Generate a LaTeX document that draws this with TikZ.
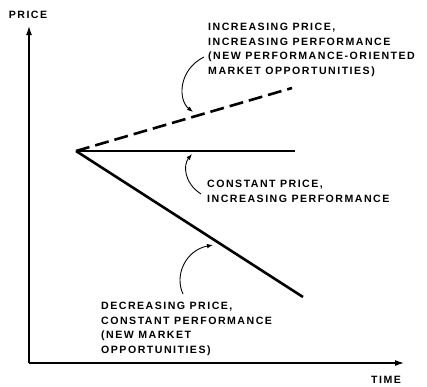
\documentclass[tikz,border=0pt]{standalone}
\usepackage{fontspec}
\usepackage{tikz}
\usetikzlibrary{arrows.meta}
\newfontfamily\lblfont{Liberation Sans}[LetterSpace=14]

\begin{document}
\begin{tikzpicture}[x=1pt,y=-1pt,
  lbl/.style={font=\lblfont\bfseries\fontsize{10.6}{14.6}\selectfont,align=left,inner sep=0pt},
  axis/.style={line width=1.2pt,-{Latex[length=9pt,width=6pt]}},
  trend/.style={line width=2.6pt},
  pointer/.style={line width=0.9pt,-{Latex[length=6pt,width=4.5pt]}}]
\useasboundingbox (0,0) rectangle (427,386);
% axes
\coordinate (orig) at (29,363);
\coordinate (ytop) at (29,26);
\coordinate (xend) at (404,363);
\draw[axis] (orig) -- (ytop);
\draw[axis] (orig) -- (xend);
\node[lbl] (price) at (28,15) {PRICE};
\node[lbl] (time) at (386,380) {TIME};
% trends
\coordinate (o) at (76,151);
\coordinate (up) at (292,88);
\coordinate (flat) at (295,151);
\coordinate (down) at (303,297);
\draw[trend,dash pattern=on 14pt off 6pt] (o) -- (up);
\draw[trend] (o) -- (flat);
\draw[trend] (o) -- (down);
% labels
\node[lbl,anchor=north west] (incr) at (208,23) {INCREASING PRICE,\\INCREASING PERFORMANCE\\(NEW PERFORMANCE-ORIENTED\\MARKET OPPORTUNITIES)};
\node[lbl,anchor=north west] (const) at (207,180) {CONSTANT PRICE,\\INCREASING PERFORMANCE};
\node[lbl,anchor=north west] (decr) at (101,302) {DECREASING PRICE,\\CONSTANT PERFORMANCE\\(NEW MARKET\\OPPORTUNITIES)};
% pointers
\coordinate (p1) at (193,112);
\coordinate (p2) at (192,154);
\coordinate (p3) at (213,245);
\draw[pointer] (incr.west |- 0,57) ++(-4,0) .. controls (178,70) and (178,100) .. (p1);
\draw[pointer] (const.west |- 0,194) ++(-6,0) .. controls (184,183) and (183,165) .. (p2);
\draw[pointer] (183,294) .. controls (174,275) and (186,250) .. (p3);
\end{tikzpicture}
\end{document}
